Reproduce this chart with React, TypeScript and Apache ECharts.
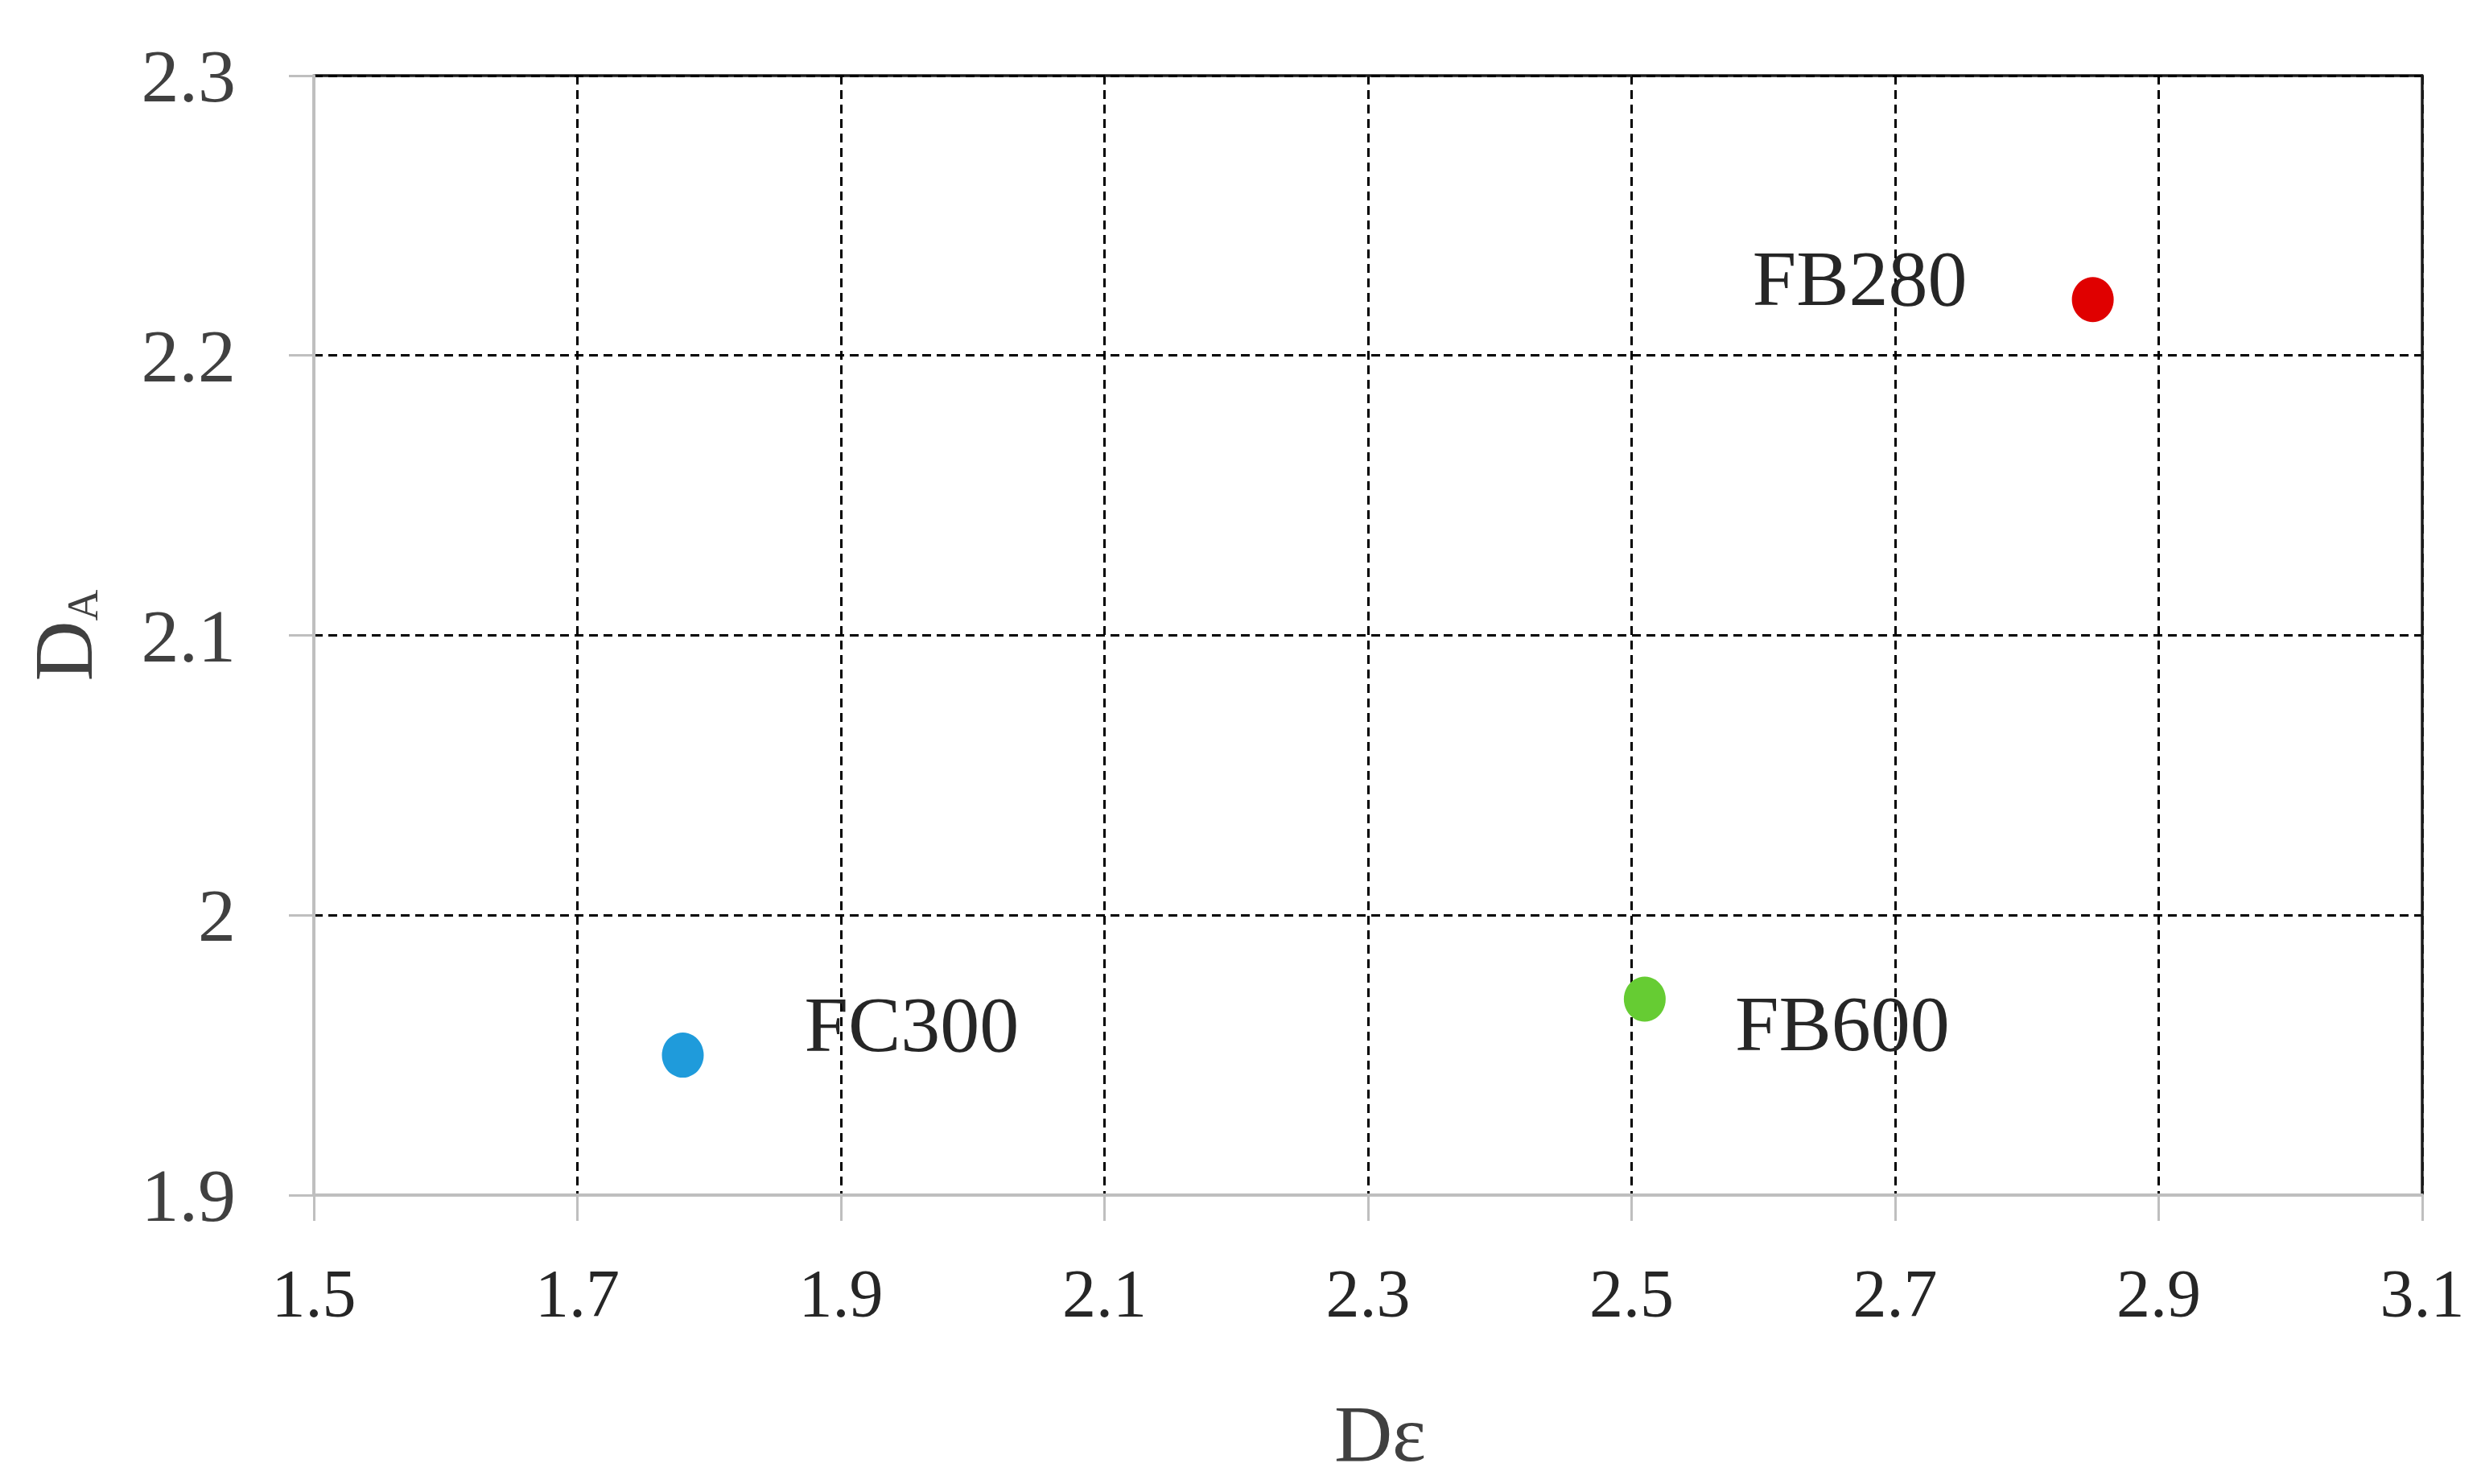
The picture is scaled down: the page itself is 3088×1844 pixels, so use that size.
import React, { useEffect, useRef } from "react";
import * as echarts from "echarts";

// ---- data ----
const sampleNames = ["FC300", "FB600", "FB280"];
const dEpsilon = [1.78, 2.51, 2.85];
const dA = [1.95, 1.97, 2.22];
const xTickMin = 1.5;
const xTickMax = 3.1;
const xTickStep = 0.2;
const yTickMin = 1.9;
const yTickMax = 2.3;
const yTickStep = 0.1;

// ---- styles ----
const pointColors = ["#1f9bdb", "#66cc33", "#e00000"];
const labelStyles = [
  { position: "right", distance: 125, offset: [0, -38] },
  { position: "right", distance: 86, offset: [0, 30] },
  { position: "left", distance: 130, offset: [0, -26] },
];

const FONT = "Liberation Serif";
const GRAY = "#bfbfbf";

export default function App() {
  const ref = useRef<HTMLDivElement>(null);

  useEffect(() => {
    if (!ref.current) return;
    const chart = echarts.init(ref.current, null, { renderer: "svg" });

    // x axis is expressed as offset from its first tick so that ticks start at xTickMin
    const span = +(xTickMax - xTickMin).toFixed(6);
    const fmtX = (v: number) => (v + xTickMin).toFixed(1);

    const data = sampleNames.map((n, i) => ({
      name: n,
      value: [dEpsilon[i] - xTickMin, dA[i]],
      itemStyle: { color: pointColors[i], opacity: 1 },
      label: {
        show: true,
        formatter: n,
        position: labelStyles[i].position,
        distance: labelStyles[i].distance,
        offset: labelStyles[i].offset,
        fontFamily: FONT,
        fontSize: 98,
        color: "#262626",
      },
    }));

    const dashed = { show: true, lineStyle: { color: "#000", type: [11, 7], width: 3 } };

    chart.setOption({
      animation: false,
      backgroundColor: "#ffffff",
      grid: { left: 390, right: 78, top: 94, bottom: 359, containLabel: false },
      xAxis: [
        {
          type: "value",
          position: "bottom",
          min: 0,
          max: span,
          interval: xTickStep,
          z: 3,
          name: "Dε",
          nameLocation: "middle",
          nameGap: 246,
          nameTextStyle: { fontFamily: FONT, fontSize: 100, color: "#404040", padding: [0, 0, 0, 30] },
          axisLine: { show: true, onZero: false, lineStyle: { color: GRAY, width: 4 } },
          axisTick: { show: true, inside: false, length: 32, lineStyle: { color: GRAY, width: 3 } },
          axisLabel: {
            show: true,
            margin: 80,
            formatter: fmtX,
            fontFamily: FONT,
            fontSize: 84,
            color: "#262626",
          },
          splitLine: { show: false },
        },
        {
          type: "value",
          position: "top",
          min: 0,
          max: span,
          interval: xTickStep,
          z: 1,
          axisLine: { show: true, onZero: false, lineStyle: { color: "#1a1a1a", width: 3.5 } },
          axisTick: { show: false },
          axisLabel: { show: false },
          splitLine: dashed,
        },
      ],
      yAxis: [
        {
          type: "value",
          position: "left",
          min: yTickMin,
          max: yTickMax,
          interval: yTickStep,
          z: 3,
          name: "{d|D}{s|A}",
          nameLocation: "middle",
          nameRotate: 90,
          nameGap: 260,
          nameTextStyle: {
            fontFamily: FONT,
            color: "#404040",
            rich: {
              d: { fontFamily: FONT, fontSize: 104, lineHeight: 104, color: "#404040" },
              s: { fontFamily: FONT, fontSize: 54, lineHeight: 40, verticalAlign: "bottom", color: "#404040" },
            },
          },
          axisLine: { show: true, onZero: false, lineStyle: { color: GRAY, width: 4 } },
          axisTick: { show: true, inside: false, length: 31, lineStyle: { color: GRAY, width: 3 } },
          axisLabel: {
            show: true,
            margin: 97,
            fontFamily: FONT,
            fontSize: 94,
            color: "#404040",
          },
          splitLine: { show: false },
        },
        {
          type: "value",
          position: "right",
          min: yTickMin,
          max: yTickMax,
          interval: yTickStep,
          z: 2,
          axisLine: { show: true, onZero: false, lineStyle: { color: "#1a1a1a", width: 3.5 } },
          axisTick: { show: false },
          axisLabel: { show: false },
          splitLine: dashed,
        },
      ],
      series: [
        {
          type: "scatter",
          xAxisIndex: 0,
          yAxisIndex: 0,
          z: 5,
          symbol: "circle",
          symbolSize: [52, 56],
          itemStyle: { opacity: 1 },
          data,
        },
      ],
    });

    return () => chart.dispose();
  }, []);

  return (
    <div
      ref={ref}
      style={{ position: "fixed", left: 0, top: 0, width: 3088, height: 1844, background: "#fff" }}
    />
  );
}
